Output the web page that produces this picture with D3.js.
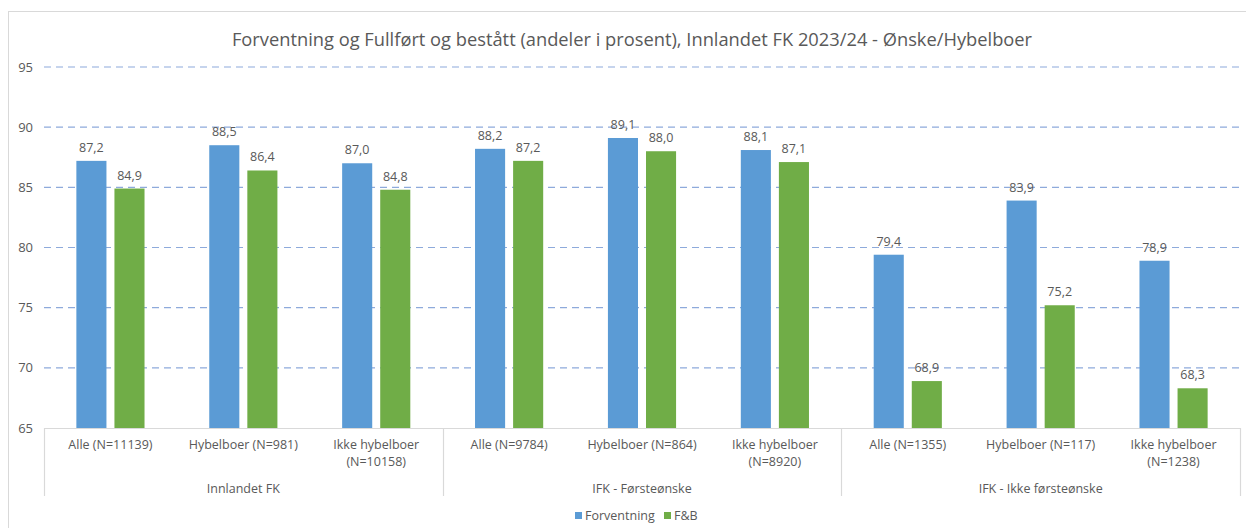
<!DOCTYPE html>
<html>
<head>
<meta charset="utf-8">
<script src="https://cdn.jsdelivr.net/npm/d3@7"></script>
<style>
  body { margin: 0; background: #fff; }
  text { font-family: "Open Sans", "Noto Sans", sans-serif; }
</style>
</head>
<body>
<svg id="chart"></svg>
<script>
const groups = ["Innlandet FK", "IFK - Førsteønske", "IFK - Ikke førsteønske"];
const categories = [
  ["Alle (N=11139)"], ["Hybelboer (N=981)"], ["Ikke hybelboer", "(N=10158)"],
  ["Alle (N=9784)"], ["Hybelboer (N=864)"], ["Ikke hybelboer", "(N=8920)"],
  ["Alle (N=1355)"], ["Hybelboer (N=117)"], ["Ikke hybelboer", "(N=1238)"]
];
const forventning = [87.2, 88.5, 87.0, 88.2, 89.1, 88.1, 79.4, 83.9, 78.9];
const fb = [84.9, 86.4, 84.8, 87.2, 88.0, 87.1, 68.9, 75.2, 68.3];
const seriesNames = ["Forventning", "F&B"];
const colors = ["#5b9bd5", "#70ad47"];
const yTicks = [65, 70, 75, 80, 85, 90, 95];

const W = 1246, H = 528;
const margin = { left: 44, right: 6, top: 67, bottom: 100 };
const svg = d3.select("#chart").attr("width", W).attr("height", H);

// outer chart border
svg.append("rect").attr("x", 8.5).attr("y", 11.5).attr("width", W).attr("height", H)
  .attr("fill", "none").attr("stroke", "#d9d9d9");

svg.append("text").attr("x", 632).attr("y", 46).attr("text-anchor", "middle")
  .attr("font-size", 18.3).attr("fill", "#595959")
  .text("Forventning og Fullført og bestått (andeler i prosent), Innlandet FK 2023/24 - Ønske/Hybelboer");

const x0 = margin.left, x1 = W - margin.right;
const y = d3.scaleLinear().domain([65, 95]).range([428, 67]);
const x = d3.scaleBand().domain(d3.range(categories.length)).range([x0, x1]);
const xs = d3.scaleBand().domain([0, 1]).range([0, x.bandwidth()]).paddingInner(0.21).paddingOuter(0.85);
const xg = d3.scaleBand().domain(d3.range(groups.length)).range([x0, x1]);

// gridlines
svg.append("g").selectAll("line").data(yTicks.filter(t => t > 65)).join("line")
  .attr("x1", x0).attr("x2", x1)
  .attr("y1", d => y(d)).attr("y2", d => y(d))
  .attr("stroke", "#8eaadb").attr("stroke-width", 1.2).attr("stroke-dasharray", "7,5");

// y tick labels
svg.append("g").selectAll("text").data(yTicks).join("text")
  .attr("x", 33).attr("y", d => y(d) + 4.5).attr("text-anchor", "end")
  .attr("font-size", 13).attr("fill", "#595959").text(d => d);

// bars
const series = [forventning, fb];
series.forEach((vals, si) => {
  svg.append("g").selectAll("rect").data(vals).join("rect")
    .attr("x", (d, i) => x(i) + xs(si))
    .attr("width", xs.bandwidth())
    .attr("y", d => y(d))
    .attr("height", d => y(65) - y(d))
    .attr("fill", colors[si]);
  svg.append("g").selectAll("text").data(vals).join("text")
    .attr("x", (d, i) => x(i) + xs(si) + xs.bandwidth() / 2)
    .attr("y", d => y(d) - 9)
    .attr("text-anchor", "middle").attr("font-size", 12.5).attr("fill", "#595959")
    .text(d => d3.format(".1f")(d).replace(".", ","));
});

// x axis line and group separators
svg.append("line").attr("x1", x0).attr("x2", x1).attr("y1", 428.5).attr("y2", 428.5)
  .attr("stroke", "#d9d9d9").attr("stroke-width", 1.2);
svg.append("g").selectAll("line").data(d3.range(groups.length + 1)).join("line")
  .attr("x1", d => Math.round(x0 + d * xg.bandwidth()) + 0.5)
  .attr("x2", d => Math.round(x0 + d * xg.bandwidth()) + 0.5)
  .attr("y1", 428).attr("y2", 496)
  .attr("stroke", "#d9d9d9").attr("stroke-width", 1.2);

// category labels
const cat = svg.append("g").selectAll("text").data(categories).join("text")
  .attr("text-anchor", "middle").attr("font-size", 12.5).attr("fill", "#595959");
cat.selectAll("tspan").data((d, i) => d.map(l => ({ l, i }))).join("tspan")
  .attr("x", d => x(d.i) + x.bandwidth() / 2)
  .attr("y", (d, j) => 449 + j * 17)
  .text(d => d.l);

// group labels
svg.append("g").selectAll("text").data(groups).join("text")
  .attr("x", (d, i) => xg(i) + xg.bandwidth() / 2).attr("y", 493)
  .attr("text-anchor", "middle").attr("font-size", 12.5).attr("fill", "#595959")
  .text(d => d);

// legend
const legendX = [575, 664];
seriesNames.forEach((n, i) => {
  svg.append("rect").attr("x", legendX[i]).attr("y", 512).attr("width", 7).attr("height", 7)
    .attr("fill", colors[i]);
  svg.append("text").attr("x", legendX[i] + 10).attr("y", 520)
    .attr("font-size", 12.5).attr("fill", "#595959").text(n);
});
</script>
</body>
</html>
